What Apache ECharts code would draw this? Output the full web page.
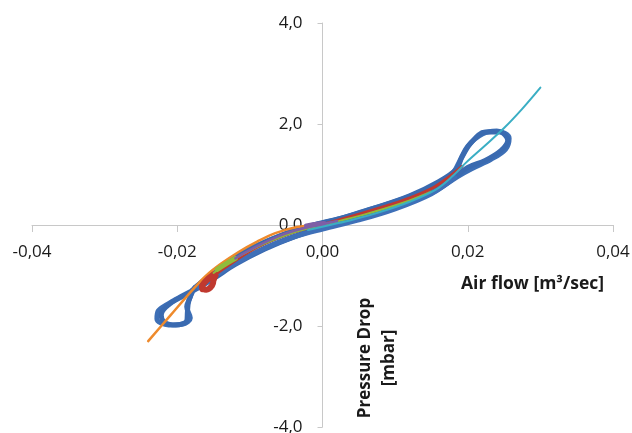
<!DOCTYPE html>
<html>
<head>
<meta charset="utf-8">
<script src="https://cdn.jsdelivr.net/npm/echarts@6/dist/echarts.min.js"></script>
<style>html,body{margin:0;padding:0;background:#fff;}#c{width:632px;height:433px;}</style>
</head>
<body>
<div id="c"></div>
<script>
// Tick values
var xTicks = [-0.04, -0.02, 0.00, 0.02, 0.04];
var yTicks = [-4.0, -2.0, 0.0, 2.0, 4.0];
var xName = 'Air flow [m\u00b3/sec]';
var yName = 'Pressure Drop\n[mbar]';

// Series values [air flow, pressure drop]
var blueCycleA = [
  [-0.0180,-1.30],[-0.0160,-1.06],[-0.0135,-0.78],[-0.0100,-0.48],[-0.0056,-0.20],
  [-0.0020,-0.03],[0.0020,0.11],[0.0056,0.27],[0.0111,0.52],[0.0156,0.80],
  [0.0180,1.04],[0.0188,1.24],[0.0200,1.56],[0.0220,1.80],[0.0240,1.86],
  [0.0257,1.72],[0.0252,1.50],[0.0232,1.30],[0.0206,1.12],[0.0186,0.96],
  [0.0156,0.68],[0.0111,0.40],[0.0056,0.16],[0.0010,-0.02],[-0.0030,-0.18],
  [-0.0070,-0.40],[-0.0110,-0.68],[-0.0145,-0.98],[-0.0175,-1.26],[-0.0205,-1.50],
  [-0.0226,-1.70],[-0.0228,-1.86],[-0.0212,-1.98],[-0.0192,-1.96],[-0.0182,-1.84],
  [-0.0187,-1.62],[-0.0182,-1.42],[-0.0180,-1.30]
];
var blueCycleB = [
  [-0.0176,-1.24],[-0.0155,-1.00],[-0.0130,-0.72],[-0.0095,-0.44],[-0.0050,-0.17],
  [-0.0010,0.01],[0.0030,0.15],[0.0070,0.33],[0.0120,0.58],[0.0160,0.86],
  [0.0184,1.10],[0.0192,1.34],[0.0204,1.62],[0.0224,1.84],[0.0244,1.84],
  [0.0255,1.68],[0.0246,1.48],[0.0224,1.28],[0.0200,1.14],[0.0180,0.92],
  [0.0150,0.64],[0.0100,0.36],[0.0050,0.14],[0.0000,-0.05],[-0.0040,-0.24],
  [-0.0080,-0.48],[-0.0120,-0.78],[-0.0150,-1.06],[-0.0180,-1.32],[-0.0210,-1.56],
  [-0.0222,-1.78],[-0.0218,-1.92],[-0.0202,-1.98],[-0.0187,-1.90],[-0.0186,-1.72],
  [-0.0184,-1.50],[-0.0176,-1.24]
];
var blueCycleC = [
  [-0.0170,-1.24],[-0.0145,-0.98],[-0.0115,-0.72],[-0.0080,-0.46],[-0.0040,-0.24],
  [0.0000,-0.08],[0.0050,0.10],[0.0100,0.32],[0.0150,0.62],[0.0182,0.94]
];
var orangeLine = [
  [-0.0240,-2.30],[-0.0210,-1.80],[-0.0178,-1.27],[-0.0160,-1.00],[-0.0140,-0.77],
  [-0.0115,-0.53],[-0.0090,-0.33],[-0.0065,-0.16],[-0.0035,-0.04],[-0.0010,0.00]
];
var redLine = [
  [0.0192,1.16],[0.0175,0.96],[0.0150,0.72],[0.0110,0.48],[0.0056,0.24],
  [0.0010,0.05],[-0.0040,-0.14],[-0.0090,-0.44],[-0.0130,-0.80],[-0.0155,-1.06],
  [-0.0168,-1.22],[-0.0166,-1.30],[-0.0156,-1.28],[-0.0150,-1.14],[-0.0145,-1.00]
];
var redBlob = [
  [-0.0150,-0.98],[-0.0160,-1.10],[-0.0166,-1.22],[-0.0160,-1.28],[-0.0152,-1.20],[-0.0150,-1.08]
];
var greenLine = [
  [-0.0150,-0.95],[-0.0135,-0.80],[-0.0110,-0.58],[-0.0080,-0.37],[-0.0040,-0.15],
  [0.0000,0.00],[0.0056,0.20],[0.0111,0.44],[0.0150,0.66]
];
var greenBlob = [
  [-0.0145,-0.88],[-0.0132,-0.76],[-0.0120,-0.66]
];
var purpleLine = [
  [-0.0120,-0.66],[-0.0090,-0.42],[-0.0060,-0.22],[-0.0030,-0.08],[0.0000,0.02],[0.0020,0.08]
];
var purpleBlob = [
  [-0.0022,-0.02],[-0.0010,0.01],[0.0002,0.03]
];
var cyanLine = [
  [0.0300,2.72],[0.0275,2.30],[0.0250,1.92],[0.0222,1.55],[0.0198,1.24],
  [0.0180,0.98],[0.0156,0.70],[0.0120,0.46],[0.0080,0.26],[0.0040,0.10],
  [0.0010,0.00],[-0.0020,-0.10]
];

function fmt(v, d) { return v.toFixed(d).replace('.', ','); }

function line(data, color, width) {
  return {
    type: 'line', data: data, showSymbol: false, symbol: 'none', smooth: 0.35,
    lineStyle: { color: color, width: width, cap: 'round', join: 'round' },
    itemStyle: { color: color }, silent: true, animation: false
  };
}

var gridLeft = 32, gridRight = 19, gridTop = 23, gridBottom = 6;
var gridW = 632 - gridLeft - gridRight, gridH = 433 - gridTop - gridBottom;

var chart = echarts.init(document.getElementById('c'), null, { renderer: 'canvas' });
chart.setOption({
  backgroundColor: '#ffffff',
  animation: false,
  grid: { left: gridLeft, right: gridRight, top: gridTop, bottom: gridBottom, containLabel: false, outerBoundsMode: 'none' },
  xAxis: {
    type: 'value', position: 'bottom', offset: -gridH / 2,
    min: xTicks[0], max: xTicks[xTicks.length - 1], interval: 0.02,
    axisLine: { onZero: false, lineStyle: { color: '#c8c8c8', width: 1 } },
    axisTick: { show: true, inside: false, length: 7, lineStyle: { color: '#c8c8c8' } },
    splitLine: { show: false },
    axisLabel: { margin: 19, fontFamily: 'Open Sans', fontSize: 17, color: '#1a1a1a',
      formatter: function (v) { return fmt(v, 2); }, showMinLabel: true, showMaxLabel: true, hideOverlap: false }
  },
  yAxis: {
    type: 'value', position: 'left', offset: -gridW / 2,
    min: yTicks[0], max: yTicks[yTicks.length - 1], interval: 2,
    axisLine: { onZero: false, lineStyle: { color: '#c8c8c8', width: 1 } },
    axisTick: { show: true, inside: false, length: 5, lineStyle: { color: '#c8c8c8' } },
    splitLine: { show: false },
    axisLabel: { margin: 20, fontFamily: 'Open Sans', fontSize: 17, color: '#1a1a1a',
      formatter: function (v) { return fmt(v, 1); }, showMinLabel: true, showMaxLabel: true, hideOverlap: false }
  },
  graphic: [
    { type: 'text', left: 461, top: 275, silent: true,
      style: { text: xName, font: 'bold 17.5px "Open Sans"', fill: '#1a1a1a' } },
    { type: 'text', x: 377, y: 358, rotation: Math.PI / 2, silent: true,
      style: { text: yName, font: 'bold 17px "Open Sans"', fill: '#1a1a1a', align: 'center', verticalAlign: 'middle', lineHeight: 24 } }
  ],
  series: [
    line(blueCycleA, '#3d6fb6', 5),
    line(blueCycleB, '#3a6ab0', 5),
    line(blueCycleC, '#3f70b8', 5),
    line(orangeLine, '#ee8a2c', 2.5),
    line(redLine, '#c0392f', 3),
    line(redBlob, '#c0392f', 6),
    line(greenLine, '#8fbc3c', 2),
    line(greenBlob, '#8fbc3c', 5),
    line(purpleLine, '#7e5fa6', 2.5),
    line(purpleBlob, '#7e5fa6', 5),
    line(cyanLine, '#3aaec4', 2)
  ]
});
</script>
</body>
</html>
